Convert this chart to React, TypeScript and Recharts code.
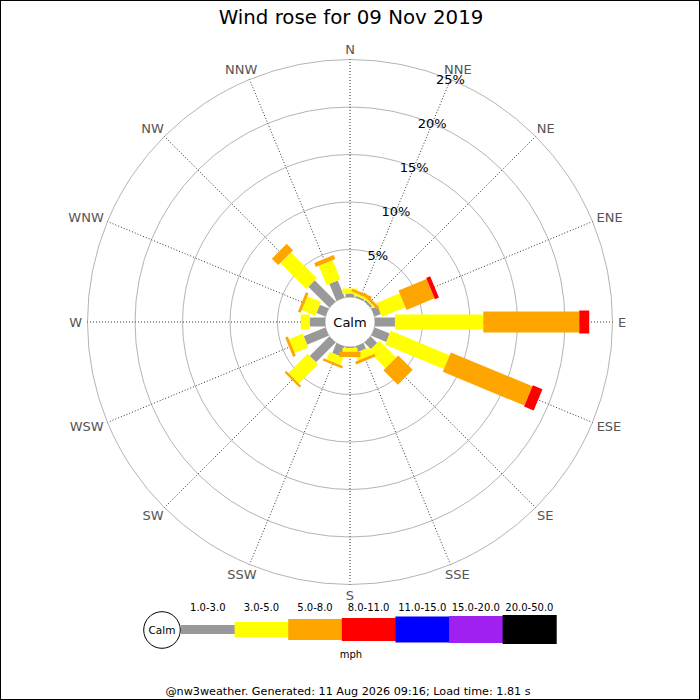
import React from 'react';
import { RadialBarChart, RadialBar, PolarGrid, PolarAngleAxis, PolarRadiusAxis } from 'recharts';

const directions = ['N', 'NNE', 'NE', 'ENE', 'E', 'ESE', 'SE', 'SSE', 'S', 'SSW', 'SW', 'WSW', 'W', 'WNW', 'NW', 'NNW'];
const speed1to3 = [0.35, 0.15, 0.2, 0.7, 2.1, 1.7, 0.95, 0.6, 0.1, 1.1, 2.9, 2.45, 1.6, 1.0, 3.1, 1.9];
const speed3to5 = [0.55, 0.25, 0.15, 2.65, 9.3, 6.7, 2.5, 0.85, 0.4, 0.85, 2.85, 1.55, 0.95, 1.55, 3.85, 2.2];
const speed5to8 = [0, 0.3, 0.3, 3.2, 10.1, 9.3, 2.15, 0.3, 0.55, 0.25, 0.25, 0.3, 0, 0.3, 0.95, 0.45];
const speed8to11 = [0, 0, 0, 0.45, 1.05, 1.1, 0, 0, 0, 0, 0, 0, 0, 0, 0, 0];

const percentTicks = [0, 5, 10, 15, 20, 25];
const speedBins = ['1.0-3.0', '3.0-5.0', '5.0-8.0', '8.0-11.0', '11.0-15.0', '15.0-20.0', '20.0-50.0'];
const binColors = ['#999999', '#ffff00', '#ffa500', '#ff0000', '#0000ff', '#a020f0', '#000000'];
const binWidths = [9, 15, 21, 23, 26, 27, 29];

// compass bearing of each direction (degrees clockwise from north)
const bearings = directions.map((_, i) => (i * 360) / directions.length);

const seriesKeys = ['s1', 's2', 's3', 's4'];
const data = directions.map((dir, i) => ({
  dir,
  bearing: bearings[i],
  s1: speed1to3[i],
  s2: speed3to5[i],
  s3: speed5to8[i],
  s4: speed8to11[i],
}));

const FONT = 'DejaVu Sans, sans-serif';
const RAD = Math.PI / 180;
const DIR_FS = 13;
const charEm: Record<string, number> = { N: 0.748, E: 0.632, S: 0.635, W: 0.989 };

const makeShape = (w: number) => (props: any) => {
  const { cx, cy, innerRadius, outerRadius, startAngle, endAngle, fill } = props;
  if (!(outerRadius - innerRadius > 0.01)) return <g />;
  const mid = ((startAngle + endAngle) / 2) * RAD;
  const ux = Math.cos(mid);
  const uy = -Math.sin(mid);
  const px = -uy;
  const py = ux;
  const h = w / 2;
  const pts = [
    [cx + innerRadius * ux + h * px, cy + innerRadius * uy + h * py],
    [cx + outerRadius * ux + h * px, cy + outerRadius * uy + h * py],
    [cx + outerRadius * ux - h * px, cy + outerRadius * uy - h * py],
    [cx + innerRadius * ux - h * px, cy + innerRadius * uy - h * py],
  ]
    .map((p) => `${p[0]},${p[1]}`)
    .join(' ');
  return <polygon points={pts} fill={fill} stroke="none" />;
};

const DirTick = (props: any) => {
  const { x, y, payload } = props;
  const cx = typeof props.cx === 'number' ? props.cx : 350;
  const cy = typeof props.cy === 'number' ? props.cy : 322;
  const idx = bearings.indexOf(payload.value);
  const label = idx >= 0 ? directions[idx] : '';
  const dx = x - cx;
  const dy = y - cy;
  const r = Math.sqrt(dx * dx + dy * dy) || 1;
  const s = dx / r;
  const c = dy / r;
  const w = label.split('').reduce((a, ch) => a + (charEm[ch] || 0.7), 0) * DIR_FS;
  const hh = 10;
  return (
    <text
      x={x + (s * w) / 2}
      y={y + (c * hh) / 2}
      textAnchor="middle"
      dominantBaseline="central"
      fill="#555555"
      fontSize={DIR_FS}
      fontFamily={FONT}
    >
      {label}
    </text>
  );
};

const PctTick = (props: any) => {
  const { x, y, payload } = props;
  if (!payload || payload.value === 0) return <g />;
  return (
    <text x={x} y={y} textAnchor="middle" dominantBaseline="central" fill="#000" fontSize={13} fontFamily={FONT}>
      {`${payload.value}%`}
    </text>
  );
};

export default function App() {
  const legendX0 = 181;
  const segW = 53.6;
  return (
    <div style={{ position: 'absolute', left: 0, top: 0, width: 700, height: 700, background: '#fff' }}>
      <RadialBarChart
        width={700}
        height={700}
        cx={350}
        cy={322}
        innerRadius={25}
        outerRadius={262.5}
        startAngle={90}
        endAngle={-270}
        layout="centric"
        data={data}
        margin={{ top: 0, right: 0, bottom: 0, left: 0 }}
      >
        <PolarGrid gridType="circle" radialLines={false} stroke="#b4b4b4" />
        <PolarGrid gridType="circle" polarRadius={[]} radialLines={true} stroke="#333333" strokeDasharray="1 2" />
        <PolarAngleAxis
          dataKey="bearing"
          type="number"
          domain={[0, 360]}
          ticks={bearings}
          axisLine={false}
          tickLine={false}
          tickSize={5.5}
          tick={<DirTick />}
          allowDataOverflow
        />
        <PolarRadiusAxis
          type="number"
          domain={[0, 25]}
          ticks={percentTicks}
          angle={67.5}
          axisLine={false}
          tickLine={false}
          tick={<PctTick />}
          allowDataOverflow
        />
        {seriesKeys.map((k, i) => (
          <RadialBar
            key={k}
            dataKey={k}
            stackId="wind"
            fill={binColors[i]}
            shape={makeShape(binWidths[i])}
            isAnimationActive={false}
          />
        ))}
      </RadialBarChart>
      <svg width={700} height={700} style={{ position: 'absolute', left: 0, top: 0, pointerEvents: 'none' }}>
        <text x={351} y={17} textAnchor="middle" dominantBaseline="central" fontSize={19.8} fontFamily={FONT} fill="#000">
          Wind rose for 09 Nov 2019
        </text>
        <text x={350} y={322} textAnchor="middle" dominantBaseline="central" fontSize={13} fontFamily={FONT} fill="#000">
          Calm
        </text>
        <circle cx={162} cy={630} r={18.3} fill="#fff" stroke="#000" strokeWidth={1} />
        <text x={162} y={630} textAnchor="middle" dominantBaseline="central" fontSize={10.5} fontFamily={FONT} fill="#000">
          Calm
        </text>
        {speedBins.map((b, i) => (
          <g key={b}>
            <rect
              x={legendX0 + i * segW}
              y={629.5 - binWidths[i] / 2}
              width={segW + 0.5}
              height={binWidths[i]}
              fill={binColors[i]}
            />
            <text
              x={legendX0 + i * segW + segW / 2}
              y={607}
              textAnchor="middle"
              dominantBaseline="central"
              fontSize={10}
              fontFamily={FONT}
              fill="#000"
            >
              {b}
            </text>
          </g>
        ))}
        <text x={351} y={654} textAnchor="middle" dominantBaseline="central" fontSize={10} fontFamily={FONT} fill="#000">
          mph
        </text>
        <text x={348} y={691} textAnchor="middle" dominantBaseline="central" fontSize={11.2} fontFamily={FONT} fill="#000">
          @nw3weather. Generated: 11 Aug 2026 09:16; Load time: 1.81 s
        </text>
      </svg>
      <div
        style={{
          position: 'absolute',
          left: 0,
          top: 0,
          width: 700,
          height: 700,
          border: '1px solid #000',
          boxSizing: 'border-box',
          pointerEvents: 'none',
        }}
      />
    </div>
  );
}
